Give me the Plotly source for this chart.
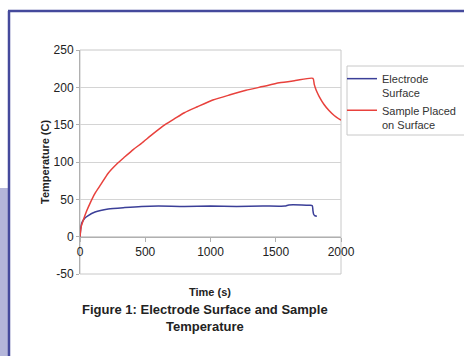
import plotly.graph_objects as go

# ---- data ----
red_t = [0, 10, 25, 50, 75, 115, 160, 216, 280, 344, 410, 471, 540, 598, 660, 725, 800,
         900, 1018, 1150, 1272, 1400, 1527, 1650, 1785, 1795, 1810, 1832, 1870, 1908, 1950, 2000]
red_T = [0, 14, 22, 34, 44, 58, 70, 85, 97, 107, 117, 125, 135, 143, 151, 158, 166,
         174, 183, 190, 196, 201, 206, 209, 212, 204, 196, 188, 177, 169, 162, 156]

blue_t = [0, 5, 13, 25, 38, 60, 115, 216, 344, 471, 600, 800, 1000, 1200, 1400, 1570,
          1600, 1700, 1760, 1780, 1785, 1790, 1800, 1815]
blue_T = [0, 10, 18, 22, 25, 28, 33, 37, 39, 40.5, 41, 40.5, 41, 40.5, 41, 41,
          42.5, 42.5, 42, 41.5, 35, 30, 28, 27.5]

series_names = ["Electrode<br>Surface", "Sample Placed<br>on Surface"]
x_ticks = [0, 500, 1000, 1500, 2000]
y_ticks = [-50, 0, 50, 100, 150, 200, 250]
y_tick_text = ["-50", "0", "50", "100", "150", "200", "250"]

W, H = 464, 356
L, R, T, B = 80, 341, 50, 274  # plot area in pixels


def px(x):
    return (x - L) / (R - L)


def py(y):
    return (B - y) / (B - T)


FONT = "Liberation Sans, Arial, sans-serif"

fig = go.Figure()
fig.add_trace(go.Scatter(x=blue_t, y=blue_T, mode="lines", name=series_names[0],
                         line=dict(color="#3b3f98", width=1.5, shape="spline", smoothing=0.6)))
fig.add_trace(go.Scatter(x=red_t, y=red_T, mode="lines", name=series_names[1],
                         line=dict(color="#e8413c", width=1.5, shape="spline", smoothing=0.6)))

fig.update_layout(
    width=W, height=H,
    margin=dict(l=L, r=W - R, t=T, b=H - B, autoexpand=False),
    paper_bgcolor="white", plot_bgcolor="white",
    font=dict(family=FONT, size=12, color="#222222"),
    showlegend=True,
    legend=dict(x=px(342), y=py(65), xanchor="left", yanchor="top",
                borderwidth=0, bgcolor="rgba(0,0,0,0)", valign="top",
                font=dict(size=11, color="#333333"), itemwidth=30),
    xaxis=dict(range=[0, 2000], tickvals=x_ticks, showgrid=False, zeroline=False,
               showline=True, linecolor="#b0b0b0", linewidth=1,
               ticks="outside", ticklen=4, tickcolor="#b0b0b0",
               anchor="free", position=50 / 300, automargin=False,
               tickfont=dict(size=12, color="#222222")),
    yaxis=dict(range=[-50, 250], tickvals=y_ticks, ticktext=y_tick_text,
               showgrid=True, gridcolor="#d4d4d4", automargin=False,
               zeroline=False, showline=True, linecolor="#b0b0b0", linewidth=1,
               ticks="outside", ticklen=3, tickcolor="#b0b0b0",
               tickfont=dict(size=12, color="#222222")),
    shapes=[
        # plot area frame
        dict(type="rect", xref="x domain", yref="y domain", x0=0, x1=1, y0=0, y1=1,
             line=dict(color="#c8c8c8", width=1), layer="below"),
        # legend frame
        dict(type="rect", xref="paper", yref="paper", x0=px(347), x1=px(470), y0=py(135), y1=py(66),
             line=dict(color="#c8c8c8", width=1), fillcolor="white", layer="below"),
        # lavender strip at left
        dict(type="rect", xref="paper", yref="paper", x0=px(0), x1=px(9), y0=py(H), y1=py(188),
             fillcolor="#b4b6da", line=dict(width=0), layer="below"),
        # dark blue frame lines
        dict(type="line", xref="paper", yref="paper", x0=px(9), x1=px(9), y0=py(H), y1=py(11),
             line=dict(color="#454a9c", width=2.5)),
        dict(type="line", xref="paper", yref="paper", x0=px(8), x1=px(W), y0=py(11), y1=py(11),
             line=dict(color="#454a9c", width=2.5)),
    ],
    annotations=[
        dict(text="<b>Temperature (C)</b>", xref="paper", yref="paper", x=px(45), y=py(162),
             textangle=-90, showarrow=False, font=dict(size=11, color="#222222"),
             xanchor="center", yanchor="middle"),
        dict(text="<b>Time (s)</b>", xref="paper", yref="paper", x=px(210), y=py(292),
             showarrow=False, font=dict(size=11, color="#222222"),
             xanchor="center", yanchor="middle"),
        dict(text="<b>Figure 1: Electrode Surface and Sample<br>Temperature</b>",
             xref="paper", yref="paper", x=px(205), y=py(318), showarrow=False,
             font=dict(size=13, color="#222222"), xanchor="center", yanchor="middle",
             align="center"),
    ],
)

# remove the browser's default 8px page margin so the figure sits at (0, 0)
fig.write_html("out.html", config={"displayModeBar": False},
               post_script="document.body.style.margin='0';")
